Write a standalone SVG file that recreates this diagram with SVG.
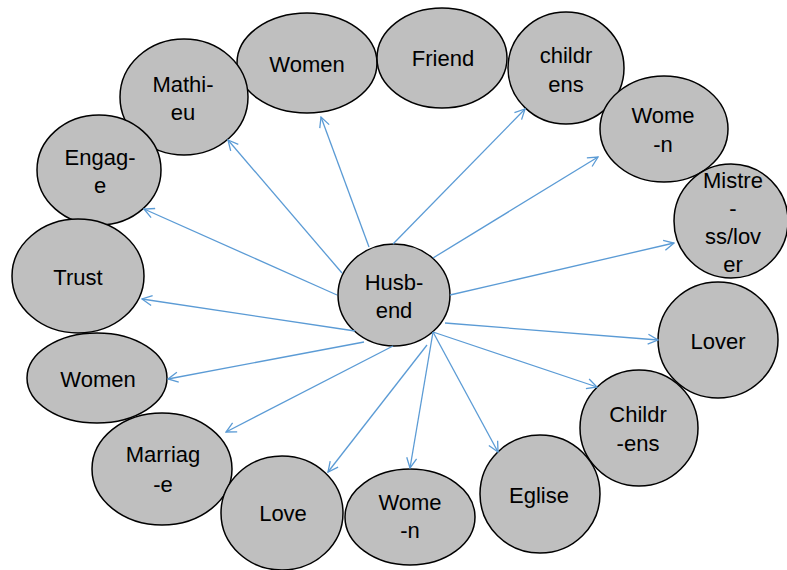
<svg xmlns="http://www.w3.org/2000/svg" width="787" height="570" viewBox="0 0 787 570">
<style>
.n ellipse{fill:#BFBFBF;stroke:#000;stroke-width:1.5}
.n text{font-family:"Liberation Sans",Arial,sans-serif;font-size:22px;fill:#000;text-anchor:middle}
#connectors line{stroke:#5B9BD5;stroke-width:1.3;fill:none;marker-end:url(#arr)}
</style>
<defs>
<marker id="arr" viewBox="0 0 12 12" refX="11" refY="6" markerWidth="12" markerHeight="12" markerUnits="userSpaceOnUse" orient="auto">
<path d="M1,1 L11,6 L1,11" fill="none" stroke="#5B9BD5" stroke-width="1.3"/>
</marker>
</defs>
<rect width="787" height="570" fill="#fff"/>
<g id="n-women-top" class="n"><ellipse cx="307" cy="63" rx="70" ry="50"/><text x="307" y="72">Women</text></g>
<g id="n-friend" class="n"><ellipse cx="442" cy="58" rx="65" ry="50"/><text x="443" y="66">Friend</text></g>
<g id="n-childrens" class="n"><ellipse cx="566" cy="68" rx="58" ry="56"/><text x="566" y="63">childr</text><text x="566" y="92">ens</text></g>
<g id="n-mathieu" class="n"><ellipse cx="184" cy="97" rx="64" ry="58"/><text x="183" y="92">Mathi-</text><text x="183" y="120">eu</text></g>
<g id="n-wome-n-right" class="n"><ellipse cx="664" cy="129" rx="64" ry="53"/><text x="663" y="123">Wome</text><text x="663" y="152">-n</text></g>
<g id="n-engage" class="n"><ellipse cx="99" cy="170" rx="62" ry="55"/><text x="100" y="165">Engag-</text><text x="100" y="193">e</text></g>
<g id="n-mistress" class="n"><ellipse cx="731" cy="221" rx="57" ry="57"/><text x="733" y="188">Mistre</text><text x="733" y="216">-</text><text x="733" y="244">ss/lov</text><text x="733" y="272">er</text></g>
<g id="n-trust" class="n"><ellipse cx="78" cy="276" rx="66" ry="57"/><text x="78" y="285">Trust</text></g>
<g id="n-lover" class="n"><ellipse cx="718" cy="340" rx="60" ry="58"/><text x="718" y="349">Lover</text></g>
<g id="n-women-left" class="n"><ellipse cx="97" cy="378" rx="70" ry="45"/><text x="98" y="387">Women</text></g>
<g id="n-childr-ens" class="n"><ellipse cx="639" cy="428" rx="59" ry="58"/><text x="638" y="422">Childr</text><text x="638" y="451">-ens</text></g>
<g id="n-marriage" class="n"><ellipse cx="162" cy="469" rx="70" ry="56"/><text x="163" y="462">Marriag</text><text x="163" y="492">-e</text></g>
<g id="n-eglise" class="n"><ellipse cx="540" cy="494" rx="60" ry="59"/><text x="539" y="503">Eglise</text></g>
<g id="n-love" class="n"><ellipse cx="282" cy="513" rx="61" ry="57"/><text x="283" y="521">Love</text></g>
<g id="n-wome-n-bottom" class="n"><ellipse cx="410" cy="517" rx="65" ry="48"/><text x="410" y="510">Wome</text><text x="410" y="538">-n</text></g>
<g id="n-husband" class="n"><ellipse cx="394" cy="295" rx="56" ry="51"/><text x="394" y="290">Husb-</text><text x="394" y="318">end</text></g>
<g id="connectors">
<line x1="342" y1="273" x2="228" y2="140"/>
<line x1="369" y1="247" x2="321" y2="117"/>
<line x1="337" y1="295" x2="144" y2="209"/>
<line x1="355" y1="331" x2="142" y2="299"/>
<line x1="364" y1="342" x2="168" y2="379"/>
<line x1="393" y1="346" x2="226" y2="432"/>
<line x1="427" y1="345" x2="328" y2="472"/>
<line x1="433" y1="332" x2="410" y2="468"/>
<line x1="433" y1="332" x2="498" y2="452"/>
<line x1="433" y1="332" x2="597" y2="387"/>
<line x1="445" y1="323" x2="658" y2="340"/>
<line x1="450" y1="295" x2="674" y2="243"/>
<line x1="433" y1="258" x2="598" y2="157"/>
<line x1="393" y1="244" x2="525" y2="109"/>
</g>
</svg>
